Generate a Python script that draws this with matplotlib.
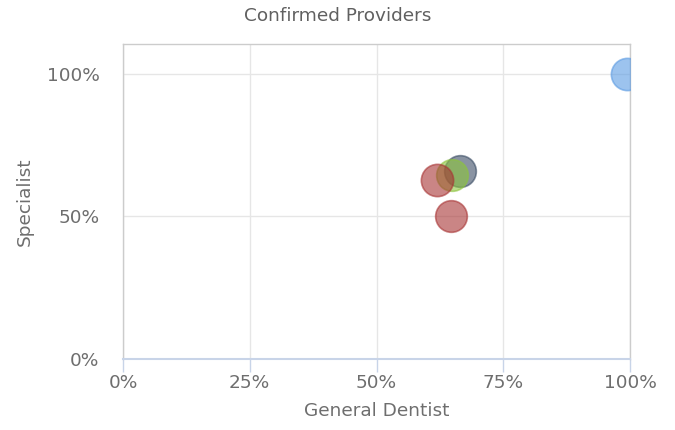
import matplotlib
matplotlib.use("Agg")
import matplotlib.pyplot as plt
from matplotlib.ticker import FuncFormatter

general = [0.995, 0.665, 0.648, 0.619, 0.646]
specialist = [1.0, 0.66, 0.645, 0.628, 0.50]
colors = ['#5b9be3', '#3a4c64', '#8cc43c', '#a83434', '#a83434']
sizes = [540, 520, 520, 540, 520]

fig = plt.figure(figsize=(6.75, 4.3), dpi=100)
ax = fig.add_axes([123/675, 71/430, 507/675, 315/430])

for x, y, c, s in zip(general, specialist, colors, sizes):
    ax.scatter([x], [y], s=s, color=c, alpha=0.6, edgecolors=c, linewidths=1.2, zorder=3)

ax.set_xlim(0, 1)
ax.set_ylim(0, 1.105)
ax.set_xticks([0, 0.25, 0.5, 0.75, 1.0])
ax.set_yticks([0, 0.5, 1.0])
fmt = FuncFormatter(lambda v, p: f"{int(round(v*100))}%")
ax.xaxis.set_major_formatter(fmt)
ax.yaxis.set_major_formatter(fmt)
ax.grid(True, color='#e6e6e6', linewidth=1, zorder=0)
ax.set_axisbelow(True)
for side in ['left', 'top', 'right']:
    ax.spines[side].set_color('#cccccc')
    ax.spines[side].set_linewidth(1)
ax.spines['bottom'].set_color('#c8d4e8')
ax.spines['bottom'].set_linewidth(1.5)
fs = 13.3
tc = '#6e6e6e'
ax.tick_params(axis='x', colors='#c8d4e8', length=9, width=1, labelcolor=tc, labelsize=fs, pad=2)
ax.tick_params(axis='y', length=0, labelcolor=tc, labelsize=fs, pad=17)
ax.set_xlabel('General Dentist', color=tc, fontsize=fs, labelpad=7)
ax.set_ylabel('Specialist', color=tc, fontsize=fs, labelpad=9)
fig.text(0.5, 1 - 16/430, 'Confirmed Providers', ha='center', va='center', color='#606060', fontsize=fs)

fig.savefig('out.png', dpi=100)
